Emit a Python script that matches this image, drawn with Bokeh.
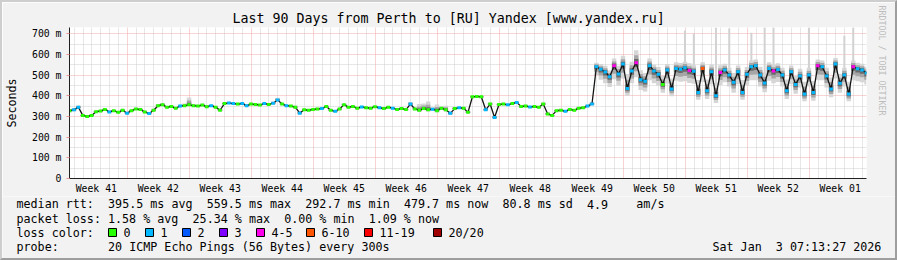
from bokeh.plotting import figure
from bokeh.models import Range1d, FixedTicker, Grid, Title
from bokeh.layouts import column, row
from bokeh.core.properties import value
from bokeh.embed import file_html
from bokeh.resources import INLINE

FONT = "DejaVu Sans Mono"

title_text = "Last 90 Days from Perth to [RU] Yandex [www.yandex.ru]"
sample_step_days = 0.5

median_ms = [
    328, 332, 345, 305, 300, 305, 323, 326, 334, 322,
    328, 320, 330, 316, 328, 336, 333, 322, 314, 330,
    352, 357, 345, 348, 340, 350, 352, 356, 352, 350,
    355, 347, 352, 345, 330, 362, 365, 362, 360, 362,
    352, 360, 358, 355, 362, 358, 364, 380, 360, 352,
    350, 345, 316, 332, 330, 334, 336, 338, 348, 330,
    325, 336, 357, 345, 348, 340, 346, 342, 340, 347,
    342, 338, 345, 340, 334, 338, 333, 360, 336, 330,
    338, 332, 335, 328, 340, 332, 315, 338, 342, 340,
    320, 395, 397, 395, 332, 360, 295, 358, 360, 356,
    362, 368, 348, 350, 346, 348, 344, 360, 312, 305,
    328, 330, 325, 334, 330, 340, 342, 350, 360,
    540, 528, 515, 492, 545, 505, 553, 435, 520, 560,
    478, 470, 545, 520, 504, 455, 524, 433, 532, 528,
    535, 522, 518, 416, 532, 424, 516, 400, 512, 525,
    500, 465, 516, 416, 504, 540, 545, 500, 462, 532,
    520, 527, 500, 424, 516, 455, 495, 408, 500, 416,
    545, 540, 495, 433, 553, 460, 500, 408, 540, 530,
    525, 510,
]

loss_class = [
    0, 1, 1, 0, 0, 0, 0, 0, 0, 1,
    0, 0, 0, 1, 0, 0, 0, 0, 1, 0,
    0, 0, 0, 0, 0, 1, 0, 0, 0, 0,
    0, 0, 1, 0, 0, 0, 1, 1, 0, 1,
    1, 0, 0, 0, 1, 0, 1, 1, 0, 1,
    0, 0, 1, 0, 0, 0, 0, 1, 0, 0,
    1, 0, 0, 0, 0, 0, 1, 0, 0, 0,
    1, 0, 0, 1, 0, 0, 0, 1, 0, 0,
    0, 0, 1, 0, 0, 0, 1, 0, 1, 0,
    0, 0, 0, 0, 1, 0, 1, 0, 0, 1,
    0, 1, 0, 0, 1, 0, 0, 0, 0, 0,
    0, 0, 1, 0, 0, 0, 0, 1, 1,
    1, 1, 1, 1, 4, 1, 1, 1, 1, 4,
    1, 1, 1, 1, 1, 0, 1, 1, 1, 1,
    1, 4, 1, 1, 5, 1, 1, 1, 4, 1,
    1, 1, 1, 1, 1, 1, 1, 1, 1, 1,
    4, 1, 1, 1, 1, 1, 1, 1, 1, 1,
    4, 1, 1, 1, 1, 1, 1, 1, 4, 1,
    1, 1,
]

smoke_up_ms = [
    8, 8, 8, 6, 6, 6, 6, 6, 6, 6,
    6, 6, 6, 6, 6, 6, 6, 6, 6, 6,
    8, 8, 6, 6, 6, 8, 10, 35, 8, 6,
    6, 6, 6, 6, 8, 6, 6, 6, 6, 6,
    6, 6, 6, 6, 6, 6, 8, 10, 6, 6,
    6, 8, 10, 6, 6, 6, 6, 6, 6, 6,
    6, 6, 6, 6, 6, 6, 6, 6, 6, 6,
    6, 6, 6, 6, 6, 6, 6, 10, 8, 30,
    25, 40, 10, 30, 8, 20, 10, 8, 6, 6,
    8, 6, 6, 6, 8, 8, 10, 6, 6, 6,
    6, 6, 6, 6, 6, 6, 6, 8, 8, 6,
    6, 6, 6, 6, 6, 6, 8, 8, 10,
    20, 25, 30, 30, 35, 40, 40, 70, 45, 60,
    45, 40, 35, 30, 35, 40, 30, 50, 30, 30,
    30, 35, 30, 60, 30, 55, 35, 60, 35, 30,
    35, 45, 30, 60, 35, 30, 30, 40, 50, 30,
    30, 30, 35, 55, 30, 40, 35, 60, 35, 55,
    30, 30, 40, 55, 30, 45, 35, 60, 30, 30,
    30, 30,
]

smoke_down_ms = [
    8, 8, 8, 8, 6, 6, 6, 6, 6, 6,
    6, 6, 6, 6, 6, 6, 6, 6, 6, 6,
    6, 6, 6, 6, 6, 6, 6, 6, 6, 6,
    6, 6, 6, 6, 6, 6, 6, 6, 6, 6,
    6, 6, 6, 6, 6, 6, 6, 6, 6, 6,
    6, 6, 6, 6, 6, 6, 6, 6, 6, 6,
    6, 6, 6, 6, 6, 6, 6, 6, 6, 6,
    6, 6, 6, 6, 6, 6, 6, 6, 6, 8,
    8, 8, 8, 8, 8, 8, 8, 8, 6, 6,
    6, 6, 6, 6, 6, 6, 6, 6, 6, 6,
    6, 6, 6, 6, 6, 6, 6, 6, 6, 6,
    6, 6, 6, 6, 6, 6, 6, 6, 6,
    40, 50, 55, 50, 65, 55, 70, 35, 60, 70,
    50, 50, 70, 60, 55, 40, 65, 35, 60, 60,
    65, 60, 60, 35, 65, 40, 60, 35, 60, 60,
    55, 50, 60, 35, 55, 65, 70, 55, 45, 60,
    60, 60, 55, 40, 60, 45, 55, 35, 55, 40,
    70, 65, 55, 40, 70, 45, 55, 35, 65, 60,
    60, 55,
]

spike_index = [139, 141, 146, 149, 154, 157, 159, 167, 175, 177]
spike_top_ms = [715, 700, 730, 725, 705, 730, 730, 730, 690, 730]

week_labels = ["Week 41", "Week 42", "Week 43", "Week 44", "Week 45", "Week 46",
               "Week 47", "Week 48", "Week 49", "Week 50", "Week 51", "Week 52",
               "Week 01"]
first_week_boundary = 6.525

y_tick_values = [0, 100, 200, 300, 400, 500, 600, 700]
y_tick_labels = ["0", "100 m", "200 m", "300 m", "400 m", "500 m", "600 m", "700 m"]
y_minor_values = [50, 150, 250, 350, 450, 550, 650]

loss_names = ["0", "1", "2", "3", "4-5", "6-10", "11-19", "20/20"]
loss_colors = ["#26ff00", "#00b8ff", "#0059ff", "#7e00ff", "#ff00ea",
               "#ff5500", "#ff0000", "#a10000"]

stats_median = "median rtt:  395.5 ms avg  559.5 ms max  292.7 ms min  479.7 ms now  80.8 ms sd  4.9    am/s"
stats_loss = "packet loss: 1.58 % avg  25.34 % max  0.00 % min  1.09 % now"
loss_color_caption = "loss color:"
probe_line = "probe:       20 ICMP Echo Pings (56 Bytes) every 300s"
date_text = "Sat Jan  3 07:13:27 2026"
watermark = "RRDTOOL / TOBI OETIKER"

# ---------------------------------------------------------------
W, H = 897, 260
EDGE = 2
FL, FR, FT, FB = 67, 867, 27, 178   # plot frame edges, page pixels
SPLIT = 196                          # page y where the legend panel starts

n = len(median_ms)
days = [i * sample_step_days for i in range(n)]

p = figure(width=W - 2 * EDGE, height=SPLIT - EDGE,
           x_range=Range1d(0, 90), y_range=Range1d(0, 730),
           output_backend="svg", toolbar_location=None,
           min_border_left=FL - EDGE, min_border_right=W - EDGE - FR,
           min_border_top=FT - EDGE, min_border_bottom=SPLIT - FB,
           background_fill_color="#ffffff", border_fill_color="#f2f2f2")
p.outline_line_color = None
for g in p.grid:
    g.visible = False

p.title.text = title_text
p.title.align = "left"
p.title.offset = 232 - FL - 2
p.title.text_font = FONT
p.title.text_font_size = "13.3px"
p.title.text_font_style = "normal"
p.title.text_color = "#000000"
p.title.standoff = 3

p.add_layout(Title(text=watermark, align="left", offset=5 - FT,
                   text_font=FONT, text_font_size="8.3px",
                   text_font_style="normal", text_color="#bdbdbd",
                   vertical_align="top", standoff=17), "right")

# axes
ya = p.yaxis[0]
ya.ticker = FixedTicker(ticks=y_tick_values)
ya.major_label_overrides = {v: l for v, l in zip(y_tick_values, y_tick_labels)}
ya.minor_tick_line_color = None
ya.major_tick_in = 0
ya.major_tick_out = 3
ya.major_tick_line_color = "#eb9595"
ya.major_label_standoff = 5
ya.major_label_text_font = FONT
ya.major_label_text_font_size = "9.8px"
ya.major_label_text_color = "#000000"
ya.axis_line_color = "#1f1f1f"
ya.axis_label = "Seconds"
ya.axis_label_text_font = FONT
ya.axis_label_text_font_size = "11.7px"
ya.axis_label_text_font_style = "normal"
ya.axis_label_text_color = "#000000"
ya.axis_label_standoff = 10

week_centers = [first_week_boundary - 3.5 + 7 * k for k in range(len(week_labels))]
week_bounds = [first_week_boundary + 7 * k for k in range(len(week_labels) - 1)]
day_lines = [first_week_boundary - 6 + d for d in range(90)
             if (first_week_boundary - 6 + d) < 90 and d % 7 != 6]

xa = p.xaxis[0]
xa.ticker = FixedTicker(ticks=week_centers)
xa.major_label_overrides = {v: l for v, l in zip(week_centers, week_labels)}
xa.minor_tick_line_color = None
xa.major_tick_in = 0
xa.major_tick_out = 0
xa.major_label_standoff = 4
xa.major_label_text_font = FONT
xa.major_label_text_font_size = "9.8px"
xa.major_label_text_color = "#000000"
xa.axis_line_color = "#1f1f1f"

# grids
def add_grid(dim, ticks, color):
    p.add_layout(Grid(dimension=dim, ticker=FixedTicker(ticks=ticks),
                      grid_line_color=color, grid_line_dash="1 1",
                      grid_line_width=1))

add_grid(0, day_lines, "#cfcfcf")
add_grid(1, y_minor_values, "#cfcfcf")
add_grid(0, week_bounds, "#f0a8a8")
add_grid(1, y_tick_values[1:], "#f0a8a8")

# smoke: tall outliers
p.segment(x0=[days[i] for i in spike_index], x1=[days[i] for i in spike_index],
          y0=[median_ms[i] for i in spike_index], y1=spike_top_ms,
          line_color="#d2d2d2", line_width=2)

# smoke bands
for frac, col in zip([1.0, 0.6, 0.3], ["#d6d6d6", "#a6a6a6", "#6a6a6a"]):
    lo = [m - frac * d for m, d in zip(median_ms, smoke_down_ms)]
    hi = [m + frac * u for m, u in zip(median_ms, smoke_up_ms)]
    p.varea_step(x=days, y1=lo, y2=hi, step_mode="center", fill_color=col)

# median line and loss colour marks
p.line(days, median_ms, line_color="#141414", line_width=1.3)
half = 0.2
p.segment(x0=[d - half for d in days], x1=[d + half for d in days],
          y0=median_ms, y1=median_ms,
          line_color=[loss_colors[c] for c in loss_class], line_width=3)

# ---------------- legend panel: data coordinates equal page pixels
q = figure(width=W - 2 * EDGE, height=H - SPLIT - EDGE,
           x_range=Range1d(EDGE, W - EDGE), y_range=Range1d(H - EDGE, SPLIT),
           output_backend="svg", toolbar_location=None,
           x_axis_type=None, y_axis_type=None,
           min_border_left=0, min_border_right=0, min_border_top=0, min_border_bottom=0,
           background_fill_color="#f2f2f2", border_fill_color="#f2f2f2")
q.outline_line_color = None
q.grid.visible = False

CHAR_W = 0.602 * 11.7


def split_runs(s):
    """pieces of a monospace line separated by runs of 2+ spaces, with their column"""
    out, i = [], 0
    while i < len(s):
        if s[i] == " ":
            i += 1
            continue
        j = i
        while j < len(s) and not (s[j] == " " and (j + 1 >= len(s) or s[j + 1] == " ")):
            j += 1
        out.append((i, s[i:j]))
        i = j
    return out


def mono_line(s, x_left, y):
    parts = split_runs(s)
    q.text(x=[x_left + c * CHAR_W for c, _ in parts], y=[y] * len(parts),
           text=[t for _, t in parts], text_font=value(FONT), text_font_size="11.7px",
           text_baseline="middle", text_align="left", text_color="#000000")


row_y = [203.5, 218, 232, 246]
text_x = 16
mono_line(stats_median, text_x, row_y[0])
mono_line(stats_loss, text_x, row_y[1])
mono_line(loss_color_caption, text_x, row_y[2])
mono_line(probe_line, text_x, row_y[3])
mono_line(date_text, 881 - len(date_text) * CHAR_W, row_y[3])

legend_box_x = [108, 145, 182, 219, 256, 306, 364, 433]
q.quad(left=legend_box_x, right=[bx + 8 for bx in legend_box_x],
       top=[row_y[2] - 4] * len(legend_box_x), bottom=[row_y[2] + 4] * len(legend_box_x),
       fill_color=loss_colors, line_color="#000000", line_width=1)
q.text(x=[bx + 15 for bx in legend_box_x], y=[row_y[2]] * len(legend_box_x),
       text=loss_names, text_font=value(FONT), text_font_size="11.7px",
       text_baseline="middle", text_align="left", text_color="#000000")

layout = column(row(p), row(q), spacing=0,
                styles={"border-style": "solid", "border-width": "2px",
                        "border-color": "#cecece #9e9e9e #9e9e9e #cecece"})

open("out.html", "w").write(file_html(layout, INLINE))
